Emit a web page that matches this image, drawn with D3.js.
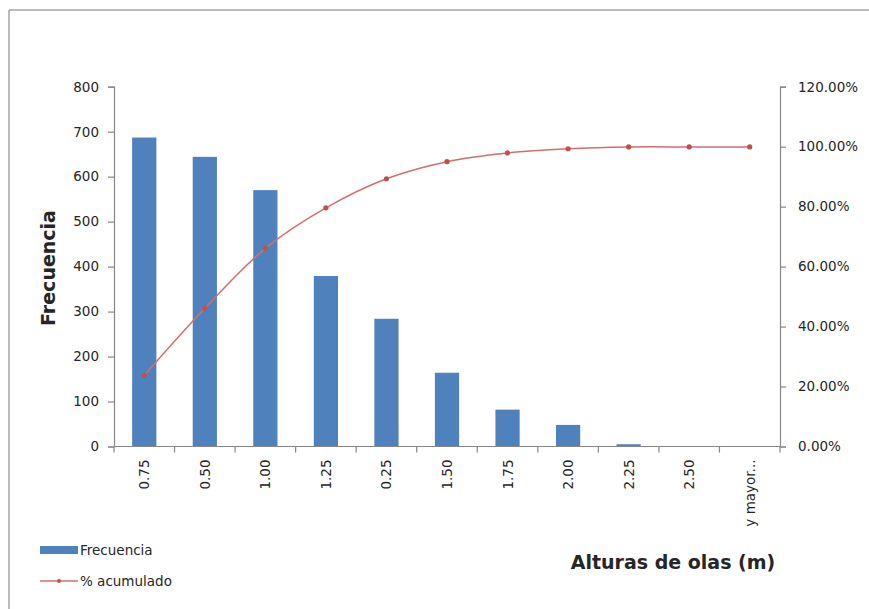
<!DOCTYPE html>
<html>
<head>
<meta charset="utf-8">
<script src="https://cdn.jsdelivr.net/npm/d3@7"></script>
<style>
  html, body { margin: 0; padding: 0; background: #fff; }
  svg { display: block; }
  text { font-family: "DejaVu Sans", sans-serif; fill: #262626; }
</style>
</head>
<body>
<svg id="chart" width="869" height="609"></svg>
<script>
const categories = ["0.75", "0.50", "1.00", "1.25", "0.25", "1.50", "1.75", "2.00", "2.25", "2.50", "y mayor..."];
const frecuencia = [687, 644, 570, 379, 284, 164, 82, 48, 5, 0, 0];
const acumulado = [0.237, 0.461, 0.661, 0.796, 0.893, 0.950, 0.979, 0.993, 0.999, 0.999, 0.999];
const leftTicks = [0, 100, 200, 300, 400, 500, 600, 700, 800];
const rightTicks = [0, 0.2, 0.4, 0.6, 0.8, 1.0, 1.2];

const svg = d3.select("#chart");
const W = 869, H = 609;
const plot = { left: 114, right: 780, top: 86.7, bottom: 446.5 };

// frame (top and left border only visible)
svg.append("line").attr("x1", 9).attr("y1", 10).attr("x2", W).attr("y2", 10)
  .attr("stroke", "#a6a6a6").attr("stroke-width", 1.5);
svg.append("line").attr("x1", 9).attr("y1", 10).attr("x2", 9).attr("y2", H)
  .attr("stroke", "#a6a6a6").attr("stroke-width", 1.5);

const x = d3.scaleBand().domain(categories).range([plot.left, plot.right]).paddingInner(0).paddingOuter(0);
const yL = d3.scaleLinear().domain([0, 800]).range([plot.bottom, plot.top]);
const yR = d3.scaleLinear().domain([0, 1.2]).range([plot.bottom, plot.top]);

const barW = x.bandwidth() / 2.5;

// bars
svg.append("g").selectAll("rect").data(categories).join("rect")
  .attr("x", d => x(d) + (x.bandwidth() - barW) / 2)
  .attr("width", barW)
  .attr("y", (d, i) => yL(frecuencia[i]))
  .attr("height", (d, i) => plot.bottom - yL(frecuencia[i]))
  .attr("fill", "#4f81bd");

// axes
const axisColor = "#868686";
const gL = svg.append("g").attr("transform", `translate(${plot.left},0)`)
  .call(d3.axisLeft(yL).tickValues(leftTicks).tickSize(6).tickPadding(9).tickFormat(d3.format("d")));
const gR = svg.append("g").attr("transform", `translate(${plot.right},0)`)
  .call(d3.axisRight(yR).tickValues(rightTicks).tickSize(6).tickPadding(12).tickFormat(d3.format(".2%")));
[gL, gR].forEach(g => {
  g.select(".domain").attr("stroke", axisColor).attr("stroke-width", 1.2);
  g.selectAll(".tick line").attr("stroke", axisColor).attr("stroke-width", 1.2);
  g.selectAll(".tick text").attr("font-size", 13.5).attr("font-family", "DejaVu Sans").attr("fill", "#262626");
});

// x axis
const gX = svg.append("g").attr("transform", `translate(0,${plot.bottom})`);
gX.append("line").attr("x1", plot.left).attr("x2", plot.right).attr("y1", 0).attr("y2", 0)
  .attr("stroke", axisColor).attr("stroke-width", 1.2);
const boundaries = categories.map(c => x(c)).concat([plot.right]);
gX.selectAll("line.tk").data(boundaries).join("line").attr("class", "tk")
  .attr("x1", d => d).attr("x2", d => d).attr("y1", 0).attr("y2", 6)
  .attr("stroke", axisColor).attr("stroke-width", 1.2);
gX.selectAll("text").data(categories).join("text")
  .attr("transform", d => `translate(${x(d) + x.bandwidth() / 2 + 5},13) rotate(-90)`)
  .attr("text-anchor", "end")
  .attr("font-size", 13.5)
  .text(d => d);

// cumulative line
const line = d3.line()
  .x((d, i) => x(categories[i]) + x.bandwidth() / 2)
  .y(d => yR(d))
  .curve(d3.curveCatmullRom.alpha(0.5));
svg.append("path").datum(acumulado).attr("d", line)
  .attr("fill", "none").attr("stroke", "#d26f6c").attr("stroke-width", 1.5);
svg.append("g").selectAll("circle").data(acumulado).join("circle")
  .attr("cx", (d, i) => x(categories[i]) + x.bandwidth() / 2)
  .attr("cy", d => yR(d))
  .attr("r", 2.6)
  .attr("fill", "#c0504d");

// axis titles
svg.append("text")
  .attr("transform", `translate(55,268) rotate(-90)`)
  .attr("text-anchor", "middle")
  .attr("font-size", 19).attr("font-weight", "bold").attr("fill", "#000")
  .text("Frecuencia");
svg.append("text")
  .attr("x", 673).attr("y", 569)
  .attr("text-anchor", "middle")
  .attr("font-size", 19).attr("font-weight", "bold").attr("fill", "#000")
  .text("Alturas de olas (m)");

// legend
svg.append("rect").attr("x", 40).attr("y", 546).attr("width", 38).attr("height", 8).attr("fill", "#4f81bd");
svg.append("text").attr("x", 80).attr("y", 555).attr("font-size", 13.5).text("Frecuencia");
svg.append("line").attr("x1", 40).attr("x2", 78).attr("y1", 581).attr("y2", 581)
  .attr("stroke", "#d26f6c").attr("stroke-width", 1.5);
svg.append("circle").attr("cx", 59).attr("cy", 581).attr("r", 2).attr("fill", "#c0504d");
svg.append("text").attr("x", 80).attr("y", 586).attr("font-size", 13.5).text("% acumulado");
</script>
</body>
</html>
